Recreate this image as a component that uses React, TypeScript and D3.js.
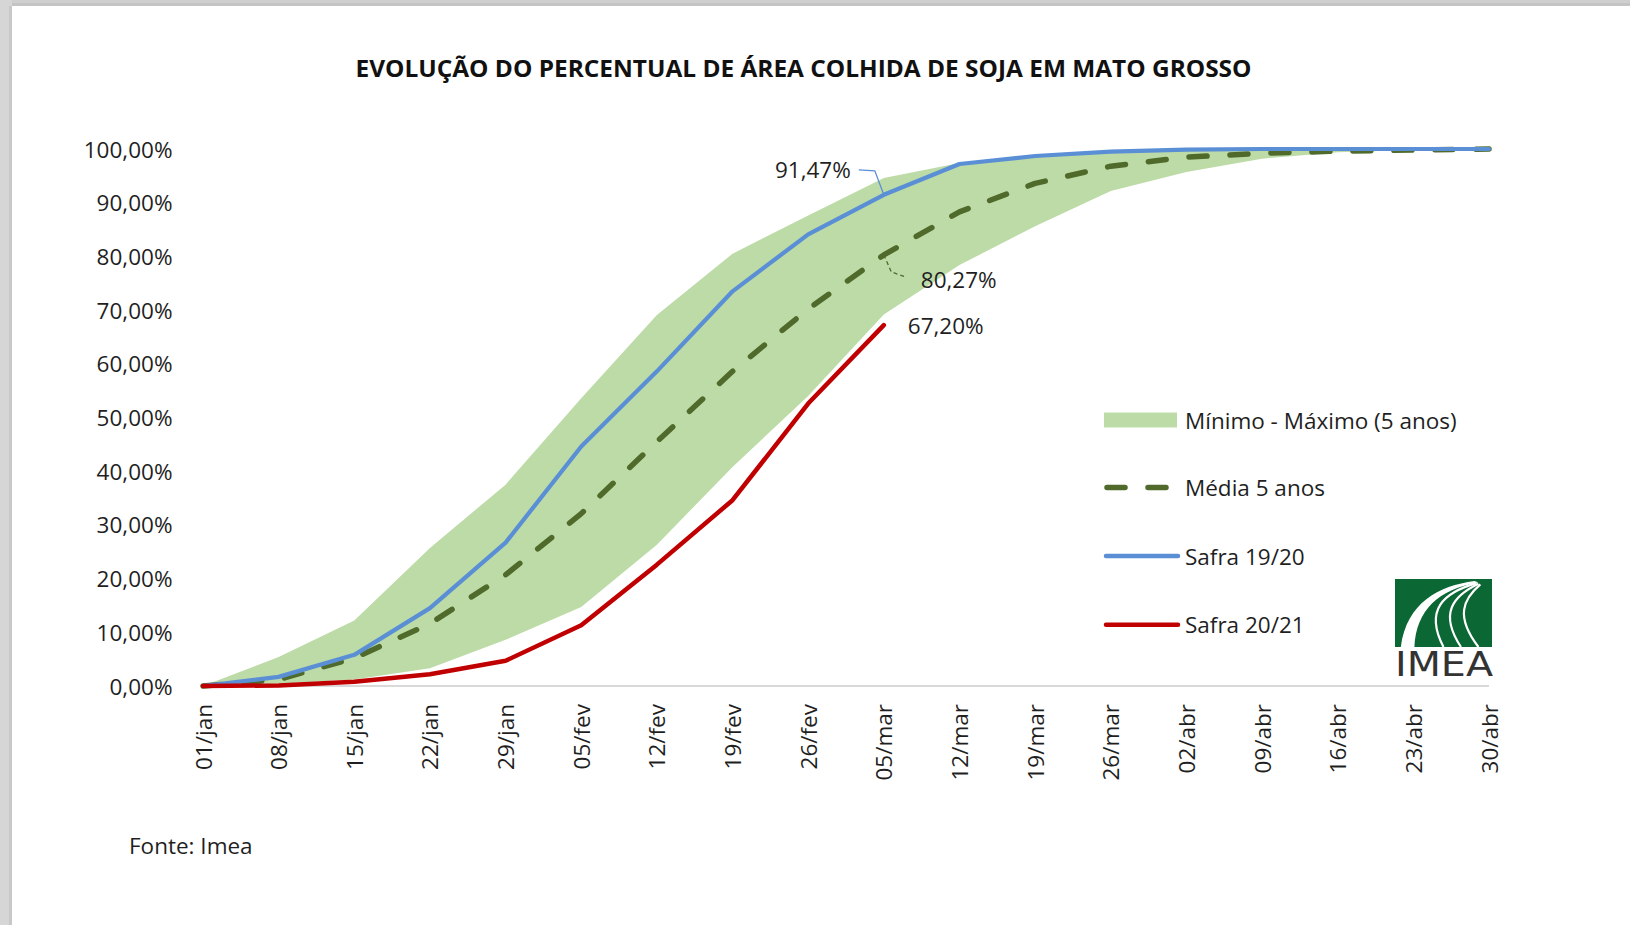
import React from "react";
import * as d3 from "d3";

const categories = [
  "01/jan", "08/jan", "15/jan", "22/jan", "29/jan", "05/fev", "12/fev", "19/fev", "26/fev",
  "05/mar", "12/mar", "19/mar", "26/mar", "02/abr", "09/abr", "16/abr", "23/abr", "30/abr",
];
const maxBand = [0, 5.4, 12.2, 25.7, 37.5, 53.6, 69.1, 80.5, 87.6, 94.6, 97.4, 98.9, 99.6, 100, 100, 100, 100, 100];
const minBand = [0, 0.4, 1.2, 3.3, 8.6, 14.7, 26.3, 40.8, 54.0, 69.2, 78.4, 85.6, 92.2, 95.7, 98.2, 99.4, 99.8, 100];
const mean5 = [0, 1.2, 5.2, 11.6, 20.7, 32.1, 45.5, 58.6, 70.2, 80.27, 88.3, 93.6, 96.8, 98.5, 99.2, 99.6, 99.8, 100];
const safra1920 = [0, 1.7, 5.8, 14.5, 26.7, 44.6, 58.6, 73.5, 84.1, 91.47, 97.2, 98.7, 99.5, 99.9, 100, 100, 100, 100];
const safra2021 = [0, 0.1, 0.8, 2.2, 4.7, 11.3, 22.6, 34.6, 52.6, 67.2];
const yTicks = [0, 10, 20, 30, 40, 50, 60, 70, 80, 90, 100];

const title = "EVOLUÇÃO DO PERCENTUAL DE ÁREA COLHIDA DE SOJA EM MATO GROSSO";
const legendLabels = ["Mínimo - Máximo (5 anos)", "Média 5 anos", "Safra 19/20", "Safra 20/21"];
const sourceText = "Fonte: Imea";

const W = 1630;
const H = 925;
const FONT = "'Open Sans', Lato, sans-serif";
const TEXT = "#1f1f1f";
const C_BAND = "#bddba7";
const C_MEAN = "#4f6a2b";
const C_BLUE = "#5a8fd6";
const C_RED = "#c00000";
const FS = 22.5;

const fmt = (v: number) => v.toFixed(2).replace(".", ",") + "%";

export default function App() {
  const x = d3.scalePoint<string>().domain(categories).range([203, 1489]);
  const y = d3.scaleLinear().domain([0, 100]).range([686, 149]);

  const area = d3
    .area<number>()
    .x((_, i) => x(categories[i]) as number)
    .y0((_, i) => y(minBand[i]))
    .y1((d) => y(d));
  const line = d3
    .line<number>()
    .x((_, i) => x(categories[i]) as number)
    .y((d) => y(d));

  const iMar = 9;
  const px = x(categories[iMar]) as number;
  const pBlue = y(safra1920[iMar]);
  const pMean = y(mean5[iMar]);
  const pRed = y(safra2021[iMar]);

  const lx0 = 1104;
  const lx1 = 1178;
  const ltx = 1185;
  const legY = [420, 487.5, 556, 624.7];

  const lg = { x: 1395, y: 579, w: 97, h: 68 };

  return (
    <div style={{ position: "absolute", left: 0, top: 0, width: W, height: H }}>
      <svg width={W} height={H} style={{ display: "block" }} fontFamily={FONT}>
        <rect x={0} y={0} width={W} height={H} fill="#ffffff" />
        <rect x={0} y={0} width={W} height={6} fill="#cfcfcf" />
        <rect x={0} y={3} width={W} height={3} fill="#c4c4c4" />
        <rect x={0} y={0} width={12} height={H} fill="#d6d6d6" />
        <rect x={9} y={6} width={3} height={H} fill="#c8c8c8" />

        <text
          x={803.5}
          y={67.5}
          textAnchor="middle"
          dominantBaseline="central"
          fontWeight={700}
          fontSize={23}
          fill="#111"
          textLength={896}
          lengthAdjust="spacingAndGlyphs"
        >
          {title}
        </text>

        {/* y tick labels */}
        {yTicks.map((t) => (
          <text
            key={t}
            x={172.5}
            y={y(t)}
            textAnchor="end"
            dominantBaseline="central"
            fontSize={FS}
            fill={TEXT}
          >
            {fmt(t)}
          </text>
        ))}

        {/* band */}
        <path d={area(maxBand) || ""} fill={C_BAND} />

        {/* axis line */}
        <line x1={x(categories[0])} x2={x(categories[categories.length - 1])} y1={y(0)} y2={y(0)} stroke="#d9d9d9" strokeWidth={2} />

        {/* x labels */}
        {categories.map((c) => (
          <text
            key={c}
            transform={`translate(${x(c)},704) rotate(-90)`}
            textAnchor="end"
            dominantBaseline="central"
            fontSize={FS}
            fill={TEXT}
          >
            {c}
          </text>
        ))}

        {/* series */}
        <path d={line(mean5) || ""} fill="none" stroke={C_MEAN} strokeWidth={5.5} strokeDasharray="18 23" strokeLinecap="round" strokeLinejoin="round" />
        <path d={line(safra1920) || ""} fill="none" stroke={C_BLUE} strokeWidth={4.2} strokeLinejoin="round" strokeLinecap="round" />
        <path d={line(safra2021) || ""} fill="none" stroke={C_RED} strokeWidth={4.5} strokeLinejoin="round" strokeLinecap="round" />

        {/* data labels */}
        <polyline
          points={`${px},${pBlue} ${px - 9},${pBlue - 24} ${px - 25},${pBlue - 25}`}
          fill="none"
          stroke={C_BLUE}
          strokeWidth={1.3}
        />
        <text x={px - 33} y={pBlue - 25} textAnchor="end" dominantBaseline="central" fontSize={FS} fill={TEXT}>
          {fmt(safra1920[iMar])}
        </text>
        <polyline
          points={`${px},${pMean} ${px + 7.5},${pMean + 17} ${px + 22},${pMean + 22}`}
          fill="none"
          stroke={C_MEAN}
          strokeWidth={1.3}
          strokeDasharray="4 3"
        />
        <text x={px + 37} y={pMean + 24.5} textAnchor="start" dominantBaseline="central" fontSize={FS} fill={TEXT}>
          {fmt(mean5[iMar])}
        </text>
        <text x={px + 24} y={pRed} textAnchor="start" dominantBaseline="central" fontSize={FS} fill={TEXT}>
          {fmt(safra2021[iMar])}
        </text>

        {/* legend */}
        <rect x={lx0} y={legY[0] - 7.5} width={lx1 - lx0 - 1} height={15} fill={C_BAND} />
        <text x={ltx} y={legY[0]} dominantBaseline="central" fontSize={FS} fill={TEXT}>
          {legendLabels[0]}
        </text>
        <line x1={lx0 + 3} x2={lx1 - 8} y1={legY[1]} y2={legY[1]} stroke={C_MEAN} strokeWidth={5.5} strokeDasharray="18 23" strokeLinecap="round" />
        <text x={ltx} y={legY[1]} dominantBaseline="central" fontSize={FS} fill={TEXT}>
          {legendLabels[1]}
        </text>
        <line x1={lx0 + 2} x2={lx1} y1={legY[2]} y2={legY[2]} stroke={C_BLUE} strokeWidth={4.5} strokeLinecap="round" />
        <text x={ltx} y={legY[2]} dominantBaseline="central" fontSize={FS} fill={TEXT}>
          {legendLabels[2]}
        </text>
        <line x1={lx0 + 2} x2={lx1} y1={legY[3]} y2={legY[3]} stroke={C_RED} strokeWidth={4.5} strokeLinecap="round" />
        <text x={ltx} y={legY[3]} dominantBaseline="central" fontSize={FS} fill={TEXT}>
          {legendLabels[3]}
        </text>

        {/* logo */}
        <g>
          <rect x={lg.x} y={lg.y} width={lg.w} height={lg.h} fill="#0b6733" />
          <path
            d={`M${lg.x + 0.82 * lg.w},${lg.y + 0.03 * lg.h} C${lg.x + 0.45 * lg.w},${lg.y + 0.1 * lg.h} ${lg.x + 0.12 * lg.w},${lg.y + 0.35 * lg.h} ${lg.x + 0.06 * lg.w},${lg.y + lg.h}
               L${lg.x + 0.2 * lg.w},${lg.y + lg.h} C${lg.x + 0.22 * lg.w},${lg.y + 0.45 * lg.h} ${lg.x + 0.45 * lg.w},${lg.y + 0.15 * lg.h} ${lg.x + 0.86 * lg.w},${lg.y + 0.05 * lg.h} Z`}
            fill="#ffffff"
          />
          <path
            d={`M${lg.x + 0.84 * lg.w},${lg.y + 0.06 * lg.h} C${lg.x + 0.5 * lg.w},${lg.y + 0.2 * lg.h} ${lg.x + 0.3 * lg.w},${lg.y + 0.45 * lg.h} ${lg.x + 0.5 * lg.w},${lg.y + lg.h}`}
            fill="none"
            stroke="#ffffff"
            strokeWidth={2.2}
          />
          <path
            d={`M${lg.x + 0.86 * lg.w},${lg.y + 0.07 * lg.h} C${lg.x + 0.6 * lg.w},${lg.y + 0.25 * lg.h} ${lg.x + 0.45 * lg.w},${lg.y + 0.5 * lg.h} ${lg.x + 0.68 * lg.w},${lg.y + lg.h}`}
            fill="none"
            stroke="#ffffff"
            strokeWidth={2.2}
          />
          <path
            d={`M${lg.x + 0.88 * lg.w},${lg.y + 0.08 * lg.h} C${lg.x + 0.7 * lg.w},${lg.y + 0.3 * lg.h} ${lg.x + 0.62 * lg.w},${lg.y + 0.55 * lg.h} ${lg.x + 0.86 * lg.w},${lg.y + lg.h}`}
            fill="none"
            stroke="#ffffff"
            strokeWidth={2.2}
          />
          <text
            x={lg.x}
            y={676}
            fontSize={34}
            fill="#333333"
            textLength={98}
            lengthAdjust="spacingAndGlyphs"
            fontFamily="'DejaVu Sans', sans-serif"
          >
            IMEA
          </text>
        </g>

        <text x={129} y={845} dominantBaseline="central" fontSize={FS} fill={TEXT}>
          {sourceText}
        </text>
      </svg>
    </div>
  );
}
